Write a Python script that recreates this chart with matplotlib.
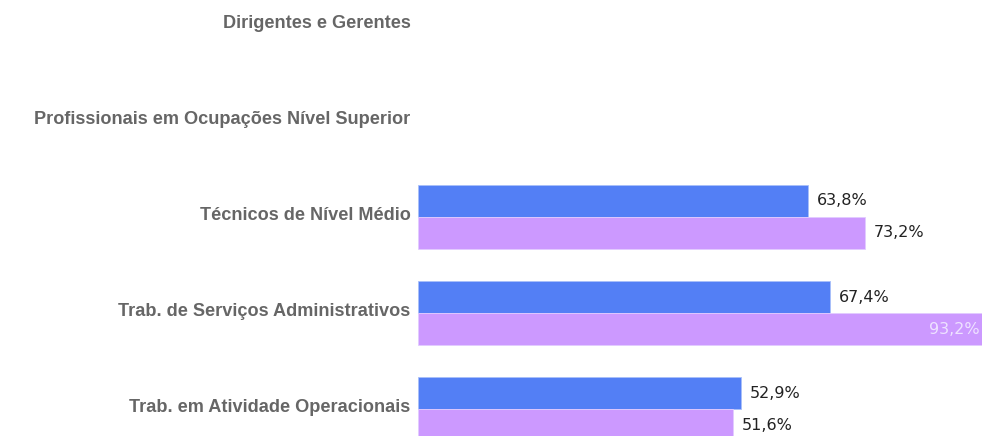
import matplotlib
matplotlib.use("Agg")
import matplotlib.pyplot as plt
import numpy as np

categories = ["Dirigentes e Gerentes",
              "Profissionais em Ocupações Nível Superior",
              "Técnicos de Nível Médio",
              "Trab. de Serviços Administrativos",
              "Trab. em Atividade Operacionais"]
serie_a = [np.nan, np.nan, 63.8, 67.4, 52.9]
serie_b = [np.nan, np.nan, 73.2, 93.2, 51.6]

blue = "#537ff5"
purple = "#cc99ff"

fig = plt.figure(figsize=(9.82, 4.36), dpi=100)
ax = fig.add_axes([417.7 / 982, 0, 1 - 417.7 / 982, 1])
xmax = (982 - 417.7) / 6.11
ax.set_xlim(0, xmax)
ax.set_ylim(4.286, -0.255)

y = np.arange(len(categories))
h = 1 / 3
ax.barh(y - h / 2, serie_a, height=h, color=blue, edgecolor="#a9c0fa", linewidth=0.6)
ax.barh(y + h / 2, serie_b, height=h, color=purple, edgecolor="#e2ccff", linewidth=0.6)

for s, vals in ((-1, serie_a), (1, serie_b)):
    for i, v in enumerate(vals):
        if np.isnan(v):
            continue
        txt = f"{v:.1f}%".replace(".", ",")
        yy = i + s * h / 2 + 0.005
        if v > xmax - 8:
            ax.text(xmax - 0.4, yy, txt, ha="right", va="center", fontsize=11.5,
                    family="DejaVu Sans", color="#eee2ff")
        else:
            ax.text(v + 1.5, yy, txt, ha="left", va="center", fontsize=11.5,
                    family="DejaVu Sans", color="#222222")

for i, c in enumerate(categories):
    ax.text(-7 / 6.11, i - 0.01, c, ha="right", va="center", fontsize=13.05,
            fontweight="bold", family="Liberation Sans", color="#666666")

ax.set_axis_off()
fig.savefig("out.png", dpi=100)
